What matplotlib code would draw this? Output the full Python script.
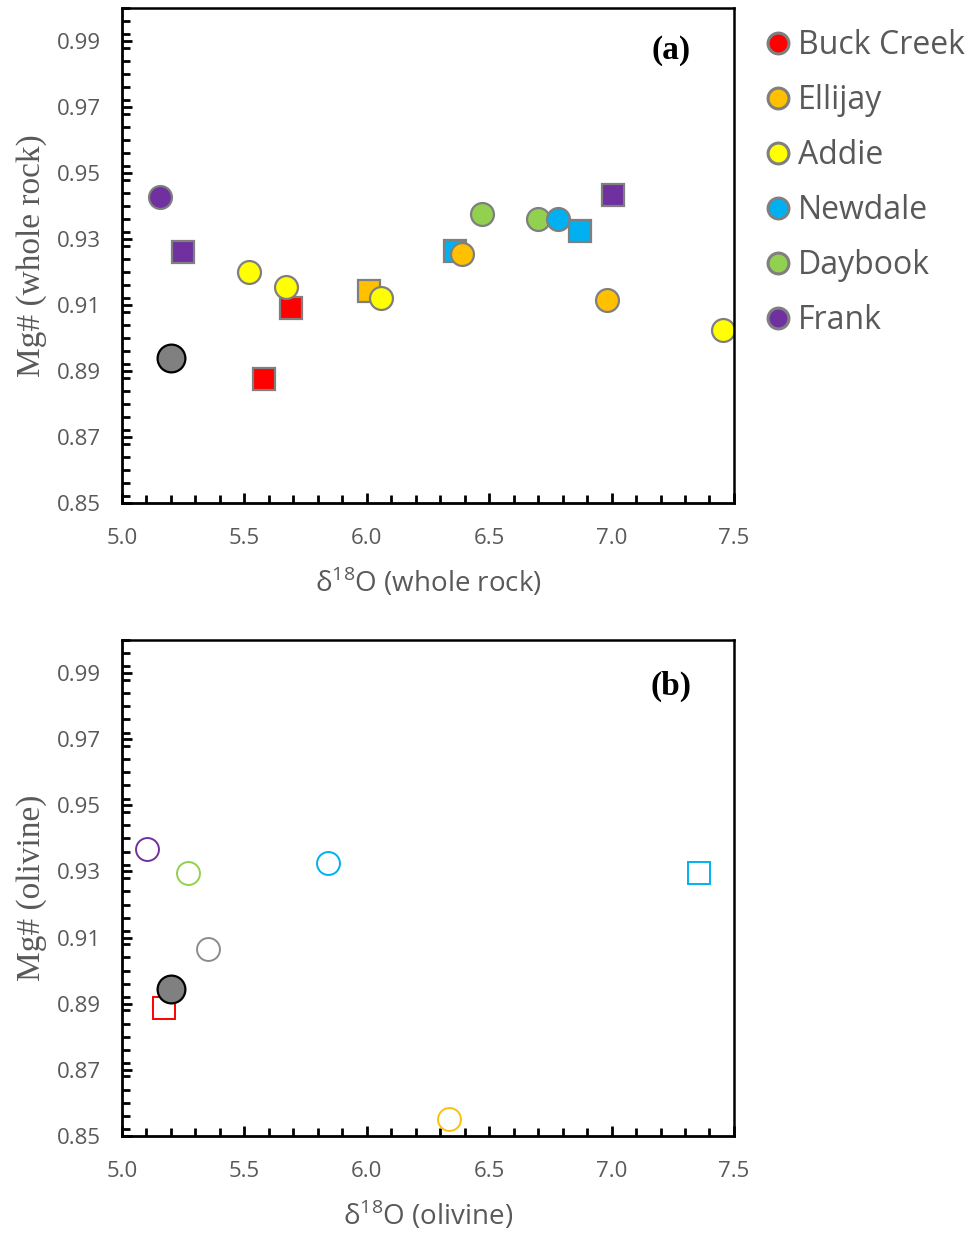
import matplotlib.pyplot as plt
from matplotlib.ticker import MultipleLocator, FormatStrFormatter
from matplotlib.lines import Line2D

plt.rcParams["mathtext.fontset"] = "custom"
plt.rcParams["mathtext.rm"] = "Open Sans"

# series colours
RED = "#FF0000"
ORANGE = "#FFC000"
YELLOW = "#FFFF00"
BLUE = "#00B0F0"
GREEN = "#92D050"
PURPLE = "#7030A0"

names = ["Buck Creek", "Ellijay", "Addie", "Newdale", "Daybook", "Frank"]
colors = [RED, ORANGE, YELLOW, BLUE, GREEN, PURPLE]

# (a) whole rock: d18O, Mg#
bc_sq_x = [5.58, 5.69]
bc_sq_y = [0.8875, 0.9092]
ell_sq_x = [6.01]
ell_sq_y = [0.9143]
ell_ci_x = [6.39, 6.98]
ell_ci_y = [0.9255, 0.9115]
add_ci_x = [5.52, 5.67, 6.06, 7.455]
add_ci_y = [0.9201, 0.9156, 0.9122, 0.9025]
new_sq_x = [6.36, 6.87]
new_sq_y = [0.9264, 0.9325]
new_ci_x = [6.78]
new_ci_y = [0.9360]
day_ci_x = [6.47, 6.70]
day_ci_y = [0.9375, 0.9360]
frk_sq_x = [5.25, 7.006]
frk_sq_y = [0.9261, 0.9432]
frk_ci_x = [5.155]
frk_ci_y = [0.9427]
ref_x = 5.20
ref_y_wr = 0.8938

# (b) olivine: d18O, Mg#
ol_bc_sq_x = [5.172]
ol_bc_sq_y = [0.8886]
ol_ell_ci_x = [6.337]
ol_ell_ci_y = [0.8550]
ol_new_ci_x = [5.843]
ol_new_ci_y = [0.9327]
ol_new_sq_x = [7.358]
ol_new_sq_y = [0.9296]
ol_day_ci_x = [5.271]
ol_day_ci_y = [0.9294]
ol_frk_ci_x = [5.101]
ol_frk_ci_y = [0.9369]
ol_gray_ci_x = [5.353]
ol_gray_ci_y = [0.9067]
ref_y_ol = 0.8946

TICK_GRAY = "#595959"
EDGE = "#7F7F7F"
MS = 16.5

fig = plt.figure(figsize=(9.72, 12.34), dpi=100)
ax1 = fig.add_axes([0.1255, 0.5924, 0.6296, 0.4011])
ax2 = fig.add_axes([0.1255, 0.0794, 0.6296, 0.4020])


def style_axis(ax, xlabel, ylabel):
    ax.set_xlim(5.0, 7.5)
    ax.set_ylim(0.85, 1.0)
    ax.xaxis.set_major_locator(MultipleLocator(0.5))
    ax.xaxis.set_minor_locator(MultipleLocator(0.1))
    ax.yaxis.set_minor_locator(MultipleLocator(0.004))
    ax.set_yticks([0.85, 0.87, 0.89, 0.91, 0.93, 0.95, 0.97, 0.99])
    ax.xaxis.set_major_formatter(FormatStrFormatter("%.1f"))
    ax.yaxis.set_major_formatter(FormatStrFormatter("%.2f"))
    ax.tick_params(which="both", direction="in", width=2, color="black",
                   top=False, right=False)
    ax.tick_params(which="major", length=7, labelsize=16,
                   labelcolor=TICK_GRAY, labelfontfamily="Open Sans")
    ax.tick_params(axis="y", which="major", pad=15)
    ax.tick_params(axis="x", which="major", pad=18)
    ax.tick_params(which="minor", length=6)
    for s in ax.spines.values():
        s.set_linewidth(2)
    ax.spines["top"].set_linewidth(1.8)
    ax.spines["right"].set_linewidth(1.8)
    ax.set_xlabel(xlabel, fontsize=20, color=TICK_GRAY, family="Open Sans",
                  labelpad=12)
    ax.set_ylabel(ylabel, fontsize=24, color=TICK_GRAY,
                  family="Liberation Serif", labelpad=7)


def filled(ax, x, y, color, marker):
    ax.plot(x, y, linestyle="none", marker=marker, markersize=MS,
            markerfacecolor=color, markeredgecolor=EDGE, markeredgewidth=1.6)


def hollow(ax, x, y, color, marker):
    ax.plot(x, y, linestyle="none", marker=marker, markersize=MS,
            markerfacecolor="white", markeredgecolor=color,
            markeredgewidth=1.4)


# (a) whole rock
filled(ax1, bc_sq_x, bc_sq_y, RED, "s")
filled(ax1, ell_sq_x, ell_sq_y, ORANGE, "s")
filled(ax1, frk_sq_x, frk_sq_y, PURPLE, "s")
filled(ax1, frk_ci_x, frk_ci_y, PURPLE, "o")
filled(ax1, add_ci_x, add_ci_y, YELLOW, "o")
filled(ax1, day_ci_x, day_ci_y, GREEN, "o")
filled(ax1, new_ci_x, new_ci_y, BLUE, "o")
filled(ax1, new_sq_x, new_sq_y, BLUE, "s")
filled(ax1, ell_ci_x, ell_ci_y, ORANGE, "o")
ax1.plot([ref_x], [ref_y_wr], linestyle="none", marker="o", markersize=20,
         markerfacecolor="#808080", markeredgecolor="black",
         markeredgewidth=1.6)

style_axis(ax1, r"δ$^{18}$O (whole rock)", "Mg# (whole rock)")
ax1.text(0.93, 0.915, "(a)", transform=ax1.transAxes, fontsize=24,
         fontweight="bold", family="Liberation Serif", ha="right",
         va="center")

handles = [Line2D([], [], linestyle="none", marker="o", markersize=15,
                  markerfacecolor=c, markeredgecolor=EDGE,
                  markeredgewidth=2.2) for c in colors]
leg = ax1.legend(handles, names, loc="upper left",
                 bbox_to_anchor=(0.9995, 1.016), frameon=False,
                 handletextpad=0.1, handlelength=1.0, labelspacing=0.69,
                 prop={"family": "Open Sans", "size": 23})
for t in leg.get_texts():
    t.set_color(TICK_GRAY)

# (b) olivine
hollow(ax2, ol_frk_ci_x, ol_frk_ci_y, PURPLE, "o")
hollow(ax2, ol_day_ci_x, ol_day_ci_y, GREEN, "o")
hollow(ax2, ol_new_ci_x, ol_new_ci_y, BLUE, "o")
hollow(ax2, ol_gray_ci_x, ol_gray_ci_y, "#8C8C8C", "o")
hollow(ax2, ol_bc_sq_x, ol_bc_sq_y, RED, "s")
hollow(ax2, ol_new_sq_x, ol_new_sq_y, BLUE, "s")
hollow(ax2, ol_ell_ci_x, ol_ell_ci_y, ORANGE, "o")
ax2.plot([ref_x], [ref_y_ol], linestyle="none", marker="o", markersize=20,
         markerfacecolor="#808080", markeredgecolor="black",
         markeredgewidth=1.6)

style_axis(ax2, r"δ$^{18}$O (olivine)", "Mg# (olivine)")
ax2.text(0.93, 0.907, "(b)", transform=ax2.transAxes, fontsize=24,
         fontweight="bold", family="Liberation Serif", ha="right",
         va="center")

fig.savefig("out.png", dpi=100)
